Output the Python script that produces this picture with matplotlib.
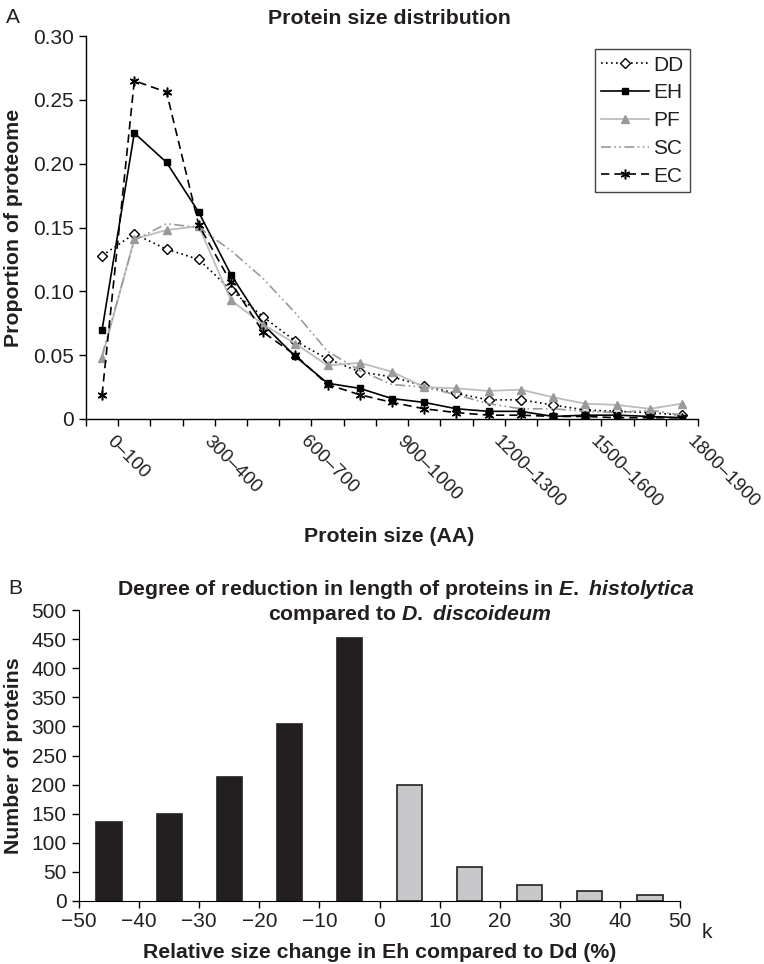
import matplotlib
matplotlib.use("Agg")
from matplotlib import pyplot as plt
import numpy as np

plt.rcParams['font.family'] = ['Liberation Sans', 'DejaVu Sans']
plt.rcParams['mathtext.fontset'] = 'custom'
plt.rcParams['mathtext.it'] = 'Liberation Sans:italic:bold'
plt.rcParams['mathtext.rm'] = 'Liberation Sans:bold'

# ---- panel A data ----
size_bins = ["0–100", "100–200", "200–300", "300–400", "400–500", "500–600",
             "600–700", "700–800", "800–900", "900–1000", "1000–1100",
             "1100–1200", "1200–1300", "1300–1400", "1400–1500", "1500–1600",
             "1600–1700", "1700–1800", "1800–1900"]
dd = [0.128, 0.145, 0.133, 0.125, 0.101, 0.080, 0.061, 0.047, 0.037, 0.033,
      0.026, 0.020, 0.015, 0.015, 0.011, 0.007, 0.006, 0.005, 0.003]
eh = [0.070, 0.224, 0.201, 0.162, 0.113, 0.074, 0.049, 0.028, 0.024, 0.016,
      0.013, 0.008, 0.006, 0.006, 0.002, 0.003, 0.003, 0.002, 0.001]
pf = [0.048, 0.141, 0.148, 0.151, 0.093, 0.074, 0.059, 0.042, 0.044, 0.037,
      0.025, 0.024, 0.022, 0.023, 0.017, 0.012, 0.011, 0.008, 0.012]
sc = [0.050, 0.140, 0.153, 0.150, 0.132, 0.110, 0.083, 0.053, 0.038, 0.027,
      0.025, 0.019, 0.012, 0.008, 0.008, 0.006, 0.005, 0.007, 0.003]
ec = [0.019, 0.265, 0.256, 0.152, 0.107, 0.068, 0.050, 0.027, 0.019, 0.013,
      0.008, 0.005, 0.003, 0.003, 0.002, 0.002, 0.001, 0.001, 0.001]

# ---- panel B data ----
change_centers = [-45, -35, -25, -15, -5, 5, 15, 25, 35, 45]
protein_counts = [136, 150, 213, 304, 452, 199, 58, 28, 17, 11]

TICK = 15
LAB = 15.3
ink = "#231f20"

fig = plt.figure(figsize=(7.64, 9.64), dpi=100)

# ================= panel A =================
ax = fig.add_axes([86 / 764, 1 - 419 / 964, 612 / 764, 383 / 964])
x = np.arange(len(size_bins))
ax.plot(x, dd, color="black", ls=(0, (1, 2)), lw=1.2, marker="D", ms=5,
        mfc="white", mec="black", mew=1, label="DD")
ax.plot(x, eh, color="black", ls="-", lw=1.2, marker="s", ms=5,
        mfc="black", mec="black", label="EH")
ax.plot(x, pf, color="#bdbdbd", ls="-", lw=1.3, marker="^", ms=6,
        mfc="#9a9a9a", mec="#9a9a9a", label="PF")
ax.plot(x, sc, color="#9a9a9a", ls=(0, (6, 2, 1, 2, 1, 2)), lw=1.2,
        label="SC")
ax.plot(x, ec, color="black", ls=(0, (5, 3)), lw=1.2, marker=(6, 2, 0),
        ms=7, mec="black", mew=1.1, label="EC")

ax.set_xlim(-0.5, len(size_bins) - 0.5)
ax.set_ylim(0, 0.30)
ax.set_yticks(np.arange(0, 0.31, 0.05))
ax.set_yticklabels(["0", "0.05", "0.10", "0.15", "0.20", "0.25", "0.30"])
# rotated category labels hang a little to the right of each category
ax.set_xticks(x[::3] + 0.42)
ax.set_xticklabels(size_bins[::3], rotation=-45, ha="left", va="top",
                   rotation_mode="anchor")
ax.set_xticks(np.arange(-0.5, len(size_bins)), minor=True)
ax.tick_params(axis="x", which="major", length=0, pad=10, labelsize=13.5,
               labelcolor=ink)
ax.tick_params(axis="x", which="minor", length=5, width=1, direction="out")
ax.tick_params(axis="y", length=5, width=1, pad=4, labelsize=TICK,
               labelcolor=ink)
for s in ["top", "right"]:
    ax.spines[s].set_visible(False)
for s in ["left", "bottom"]:
    ax.spines[s].set_linewidth(1)

ax.set_ylabel("Proportion of proteome", fontsize=LAB, fontweight="bold",
              color=ink)
ax.yaxis.set_label_coords(-0.103, 0.5)
ax.set_xlabel("Protein size (AA)", fontsize=LAB, fontweight="bold",
              color=ink, va="baseline")
ax.xaxis.set_label_coords(0.495, -0.321)
ax.set_title("Protein size distribution", fontsize=LAB, fontweight="bold",
             pad=8.5, color=ink, x=0.495)

leg = ax.legend(loc="upper right", bbox_to_anchor=(0.987, 0.965),
                borderaxespad=0, fontsize=TICK, handlelength=2.3,
                handletextpad=0.2, labelspacing=0.42, fancybox=False,
                edgecolor="#444444", framealpha=1, borderpad=0.3)
leg.get_frame().set_linewidth(1)
for t in leg.get_texts():
    t.set_color(ink)

fig.text(6 / 764, 1 - 23 / 964, "A", fontsize=TICK, va="baseline",
         ha="left", color=ink)

# ================= panel B =================
bx = fig.add_axes([79 / 764, 1 - 901 / 964, 601 / 764, 291 / 964])
bar_colors = [ink if c < 0 else "#c8c8ca" for c in change_centers]
bx.bar(change_centers, protein_counts, width=4.2, color=bar_colors,
       edgecolor=ink, linewidth=1.2)
bx.set_xlim(-50, 50)
bx.set_ylim(0, 500)
bx.set_xticks(np.arange(-50, 51, 10))
bx.set_xticklabels([str(v).replace("-", "−") for v in range(-50, 51, 10)])
bx.set_yticks(np.arange(0, 501, 50))
bx.tick_params(axis="both", length=5, width=1, labelsize=TICK,
               labelcolor=ink)
bx.tick_params(axis="y", pad=4)
bx.tick_params(axis="x", pad=3)
for s in ["top", "right"]:
    bx.spines[s].set_visible(False)
bx.set_ylabel("Number of proteins", fontsize=LAB, fontweight="bold",
              color=ink)
bx.yaxis.set_label_coords(-0.093, 0.5)
bx.set_xlabel("Relative size change in Eh compared to Dd (%)", fontsize=LAB,
              fontweight="bold", color=ink, va="baseline")
bx.xaxis.set_label_coords(0.501, -0.196)

fig.text(406 / 764, 1 - 595 / 964,
         r"Degree of reduction in length of proteins in $\it{E.}$ $\it{histolytica}$",
         fontsize=LAB, fontweight="bold", ha="center", va="baseline",
         color=ink)
fig.text(410 / 764, 1 - 620 / 964,
         r"compared to $\it{D.}$ $\it{discoideum}$",
         fontsize=LAB, fontweight="bold", ha="center", va="baseline",
         color=ink)
fig.text(8 / 764, 1 - 594 / 964, "B", fontsize=TICK, va="baseline",
         ha="left", color=ink)
fig.text(702 / 764, 1 - 938 / 964, "k", fontsize=TICK, va="baseline",
         ha="left", color=ink)

fig.savefig("out.png", dpi=100)
